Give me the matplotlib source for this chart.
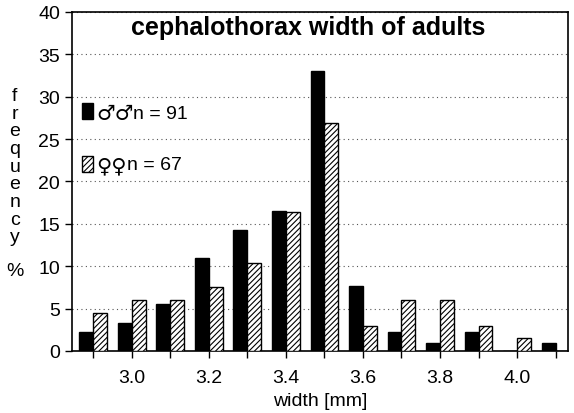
import numpy as np
import matplotlib.pyplot as plt
from matplotlib.patches import Rectangle

plt.rcParams['font.family'] = ['Liberation Sans', 'DejaVu Sans']
plt.rcParams['hatch.linewidth'] = 0.8

# width classes [mm] and frequency [%]
widths = [2.9, 3.0, 3.1, 3.2, 3.3, 3.4, 3.5, 3.6, 3.7, 3.8, 3.9, 4.0, 4.1]
males = [2.2, 3.3, 5.5, 11.0, 14.3, 16.5, 33.0, 7.7, 2.2, 1.0, 2.2, 0.0, 1.0]
females = [4.5, 6.0, 6.0, 7.5, 10.4, 16.4, 26.9, 3.0, 6.0, 6.0, 3.0, 1.5, 0.0]
n_males = 91
n_females = 67

bar_w = 0.036

fig = plt.figure(figsize=(5.74, 4.14), dpi=100)
ax = fig.add_axes([0.1254, 0.1498, 0.8641, 0.8188])

ax.bar(widths, males, width=-bar_w, align='edge', color='black',
       edgecolor='black', linewidth=1.0, zorder=3)
ax.bar(widths, females, width=bar_w, align='edge', color='white',
       edgecolor='black', linewidth=1.0, hatch='//////', zorder=3)

ax.set_xlim(2.845, 4.132)
ax.set_ylim(0, 40)
ax.set_yticks(np.arange(0, 41, 5))
ax.set_xticks([3.0, 3.2, 3.4, 3.6, 3.8, 4.0])
ax.set_xticks(widths, minor=True)
ax.set_xticklabels(['3.0', '3.2', '3.4', '3.6', '3.8', '4.0'])
ax.tick_params(axis='both', which='both', direction='out', length=5,
               width=1, labelsize=14, color='black')
ax.tick_params(axis='x', pad=8)
ax.yaxis.grid(True, linestyle=(0, (1, 3)), color='#555555', linewidth=0.8)
ax.set_axisbelow(True)
for s in ax.spines.values():
    s.set_linewidth(1.2)

ax.set_xlabel('width [mm]', fontsize=14, labelpad=4)
fig.text(0.026, 0.596, 'f\nr\ne\nq\nu\ne\nn\nc\ny', fontsize=14,
         ha='center', va='center', linespacing=1.05)
fig.text(0.026, 0.343, '%', fontsize=14, ha='center', va='center')

ax.text(0.476, 0.956, 'cephalothorax width of adults', transform=ax.transAxes,
        ha='center', va='center', fontsize=18, fontweight='bold')

# legend drawn by hand: tall narrow swatches, big sex symbols
ax.add_patch(Rectangle((0.020, 0.684), 0.022, 0.048, transform=ax.transAxes,
                       facecolor='black', edgecolor='black', lw=1, zorder=4))
ax.add_patch(Rectangle((0.020, 0.528), 0.022, 0.048, transform=ax.transAxes,
                       facecolor='white', edgecolor='black', lw=1,
                       hatch='//////', zorder=4))
ax.text(0.049, 0.702, '\u2642\u2642', transform=ax.transAxes, fontsize=15,
        family='DejaVu Sans', ha='left', va='center')
ax.text(0.049, 0.549, '\u2640\u2640', transform=ax.transAxes, fontsize=15,
        family='DejaVu Sans', ha='left', va='center')
ax.text(0.123, 0.702, 'n = %d' % n_males, transform=ax.transAxes,
        fontsize=14, ha='left', va='center')
ax.text(0.111, 0.549, 'n = %d' % n_females, transform=ax.transAxes,
        fontsize=14, ha='left', va='center')

fig.savefig('out.png', dpi=100)
